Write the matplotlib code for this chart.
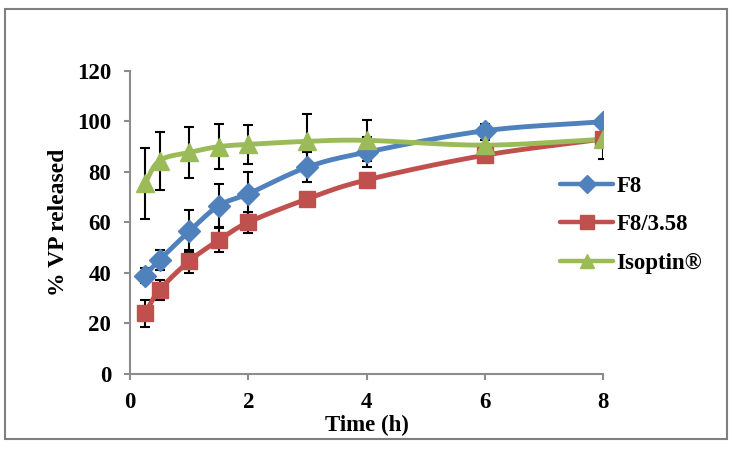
import numpy as np
import matplotlib
matplotlib.use("Agg")
import matplotlib.pyplot as plt
from matplotlib.patches import Rectangle

time_h = [0.25, 0.5, 1, 1.5, 2, 3, 4, 6, 8]
f8 = [38.8, 45, 56.3, 66.5, 71.2, 81.8, 87.7, 96.2, 99.8]
f8_sd = [3, 4, 8.3, 8.5, 8.5, 6, 6, 2.6, 1]
f8_358 = [23.9, 33.1, 44.5, 52.8, 59.9, 69.2, 76.7, 86.5, 92.9]
f8_358_sd = [5.3, 4, 4.5, 4.8, 4.3, 2, 1, 1, 8]
isoptin = [75.3, 84.4, 87.6, 89.9, 90.8, 92, 92.4, 90.5, 92.8]
isoptin_sd = [14, 11.5, 10, 9, 7.8, 11, 8, 2, 2]

labels = ["F8", "F8/3.58", "Isoptin\u00ae"]
colors = ["#4F81BD", "#C0504D", "#9BBB59"]
markers = ["D", "s", "^"]
msizes = [11, 12, 13]

plt.rcParams['font.family'] = ['Liberation Serif', 'DejaVu Serif']
plt.rcParams['font.weight'] = 'bold'

fig = plt.figure(figsize=(7.32, 4.5), dpi=100)
fig.patches.append(Rectangle((5/732, 1-439/450), 722/732, 430/450, transform=fig.transFigure,
                             fill=False, edgecolor='#7f7f7f', linewidth=1.5))
ax = fig.add_axes([130/732, 1-373.5/450, 473/732, (373.5-70.7)/450])
ax.set_xlim(0, 8)
ax.set_ylim(0, 120)


def smooth(x, y, sx=473/8, sy=302/120, n=20):
    px = np.asarray(x, float) * sx
    py = np.asarray(y, float) * sy
    P = np.column_stack([px, py])
    P = np.vstack([P[0] + (P[0] - P[1]), P, P[-1] + (P[-1] - P[-2])])
    out = []
    for i in range(1, len(P) - 2):
        p0, p1, p2, p3 = P[i-1], P[i], P[i+1], P[i+2]
        t = np.linspace(0, 1, n)[:, None]
        c1 = p1 + (p2 - p0) / 6
        c2 = p2 - (p3 - p1) / 6
        seg = ((1-t)**3)*p1 + 3*((1-t)**2)*t*c1 + 3*(1-t)*t**2*c2 + t**3*p2
        out.append(seg if i == 1 else seg[1:])
    out = np.vstack(out)
    return out[:, 0] / sx, out[:, 1] / sy


series = [(f8, f8_sd), (f8_358, f8_358_sd), (isoptin, isoptin_sd)]
handles = []
for (vals, sd), lab, c, m, ms in zip(series, labels, colors, markers, msizes):
    ax.errorbar(time_h, vals, yerr=sd, fmt='none', ecolor='black', elinewidth=1.5,
                capsize=3.5, capthick=1.5, zorder=2)
for (vals, sd), lab, c, m, ms in zip(series, labels, colors, markers, msizes):
    sx, sy = smooth(time_h, vals)
    ax.plot(sx, sy, color=c, lw=3.5, zorder=3, solid_capstyle='round')
    ax.plot(time_h, vals, linestyle='none', marker=m, color=c, markersize=ms, zorder=4)
    h, = ax.plot([], [], color=c, lw=3.2, marker=m, markersize=ms * 0.8, label=lab,
                 solid_capstyle='round')
    handles.append(h)

for s in ['top', 'right']:
    ax.spines[s].set_visible(False)
for s in ['left', 'bottom']:
    ax.spines[s].set_color('#8c8c8c')
    ax.spines[s].set_linewidth(1.5)
ax.set_xticks([0, 2, 4, 6, 8])
ax.set_yticks(range(0, 121, 20))
ax.tick_params(axis='both', direction='out', length=4.5, width=1.5, color='#8c8c8c',
               labelsize=16.5)
ax.tick_params(axis='y', pad=9)
ax.tick_params(axis='x', pad=9)
for t in ax.get_xticklabels() + ax.get_yticklabels():
    t.set_fontweight('bold')
ax.set_xlabel("Time (h)", fontsize=16.5, fontweight='bold', labelpad=1)
ax.set_ylabel("% VP released", fontsize=17, fontweight='bold', labelpad=6)

leg = ax.legend(handles=handles, loc='upper left', bbox_to_anchor=(551/732, 1-167/450),
                bbox_transform=fig.transFigure, frameon=False, fontsize=16.5,
                handlelength=2.3, handletextpad=0.15, labelspacing=0.75, borderaxespad=0)
for t in leg.get_texts():
    t.set_fontweight('bold')

fig.savefig("out.png", dpi=100)
